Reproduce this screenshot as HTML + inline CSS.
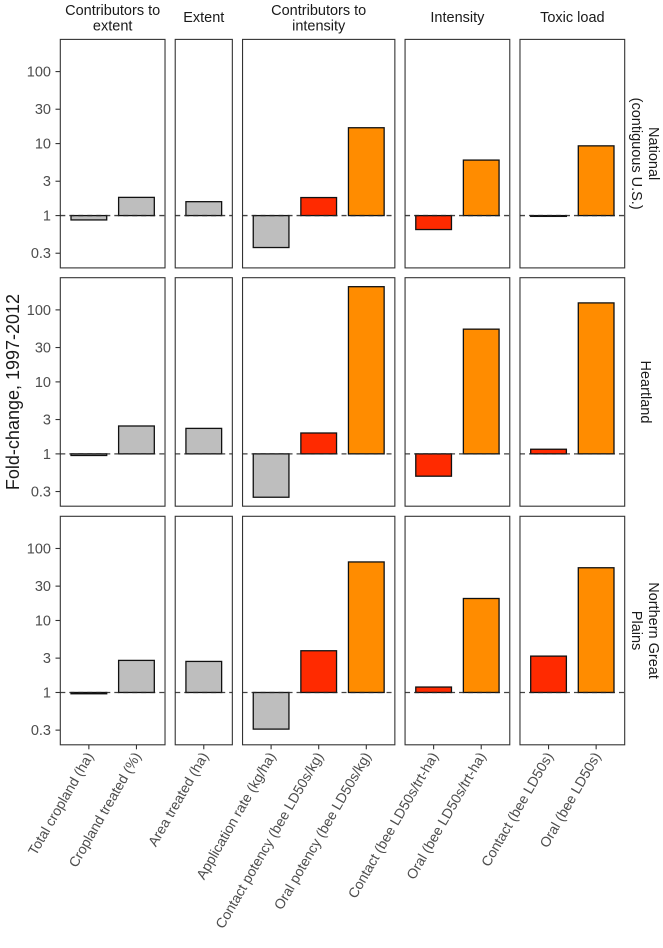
<!DOCTYPE html>
<html><head><meta charset="utf-8"><style>
html,body{margin:0;padding:0;background:#fff}
svg{display:block;font-family:"Liberation Sans",Arial,sans-serif}
</style></head><body>
<svg id="chart" width="663" height="948" viewBox="0 0 663 948" xmlns="http://www.w3.org/2000/svg"></svg>
<script>
const categories = ["Total cropland (ha)","Cropland treated (%)","Area treated (ha)","Application rate (kg/ha)","Contact potency (bee LD50s/kg)","Oral potency (bee LD50s/kg)","Contact (bee LD50s/trt-ha)","Oral (bee LD50s/trt-ha)","Contact (bee LD50s)","Oral (bee LD50s)"];
const categoryPanel = [0,0,1,2,2,2,3,3,4,4];
const categoryColor = ["#bebebe","#bebebe","#bebebe","#bebebe","#ff2a00","#ff8c00","#ff2a00","#ff8c00","#ff2a00","#ff8c00"];
const panelTitles = [["Contributors to","extent"],["Extent"],["Contributors to","intensity"],["Intensity"],["Toxic load"]];
const regions = [["National","(contiguous U.S.)"],["Heartland"],["Northern Great","Plains"]];
const valuesNational = [0.87,1.79,1.56,0.36,1.78,16.6,0.64,5.9,0.98,9.3];
const valuesHeartland = [0.95,2.44,2.26,0.25,1.95,210,0.49,54,1.16,125];
const valuesNGP = [0.96,2.79,2.7,0.31,3.8,65,1.19,20.2,3.2,54];
const seriesValues = [valuesNational,valuesHeartland,valuesNGP];
const yTicks = [0.3,1,3,10,30,100];
const yTickLabels = ["0.3","1","3","10","30","100"];

const svg = document.getElementById('chart');
const NS = 'http://www.w3.org/2000/svg';
function mk(tag, attrs, parent){const e=document.createElementNS(NS,tag);for(const k in attrs)e.setAttribute(k,attrs[k]);(parent||svg).appendChild(e);return e;}

const unit = 47.6, gap = 10.2, left0 = 60.3;
const panelCounts = [2,1,3,2,2];
function pW(p){ return (panelCounts[p]+0.2)*unit; }
const panelX = []; let px = left0;
for (let i=0;i<panelCounts.length;i++){ panelX.push(px); px += pW(i) + gap; }
const rowTop = [39.4, 277.7, 516.3], rowH = 228.5;
const logMax = 2.447, logMin = logMax - rowH/72.0;
function yScale(v, r){ return rowTop[r] + (logMax - Math.log10(v))/(logMax-logMin)*rowH; }
function xCenter(ci){ const p = categoryPanel[ci]; let idx = 0; for(let j=0;j<ci;j++) if(categoryPanel[j]===p) idx++; return panelX[p] + (0.6+idx)*unit; }

panelTitles.forEach((lines,p)=>{
  const cx = panelX[p]+pW(p)/2;
  const t = mk('text',{x:cx,'text-anchor':'middle','font-size':14.5,fill:'#1a1a1a'});
  
  
  lines.forEach((ln,i)=>{ const s=mk('tspan',{x:cx,y: lines.length===1?22:(15+i*15.5)},t); s.textContent=ln; });
});

for (let r=0;r<3;r++){
  const g = mk('g',{});
  
  
  yTicks.forEach((v,i)=>{
    const y=yScale(v,r);
    mk('line',{x1:55.5,x2:60.3,y1:y,y2:y,stroke:'#333','stroke-width':1.1},g);
    const t=mk('text',{x:51,y:y+5,'text-anchor':'end','font-size':14.5,fill:'#4d4d4d'},g);
    
    
    t.textContent=yTickLabels[i];
  });
  for (let p=0;p<5;p++){
    const pr = mk('rect',{x:panelX[p],y:rowTop[r],width:pW(p),height:rowH,fill:'#fff',stroke:'#333','stroke-width':1.1},g);
    
    
  }
  categories.forEach((c,ci)=>{
    const v = seriesValues[r][ci];
    const y1 = yScale(1,r), yv = yScale(v,r);
    const cx = xCenter(ci);
    const b = mk('rect',{x:cx-0.375*unit,y:Math.min(y1,yv),width:0.75*unit,height:Math.max(Math.abs(yv-y1),0.8),fill:categoryColor[ci],stroke:'#111','stroke-width':1.3},g);
    
    
  });
  for (let p=0;p<5;p++){
    const y1 = yScale(1,r);
    const d = mk('line',{x1:panelX[p],x2:panelX[p]+pW(p),y1:y1,y2:y1,stroke:'#222','stroke-width':1.3,'stroke-dasharray':'5,4','opacity':0.85},g);
    
    
  }
  const cy = rowTop[r]+rowH/2;
  const lines = regions[r];
  const st = mk('text',{transform:'translate(646,'+cy+') rotate(90)','text-anchor':'middle','font-size':14.5,fill:'#1a1a1a'});
  
  
  lines.forEach((ln,i)=>{ const s=mk('tspan',{x:0,y: lines.length===1?5:(-3+i*17)},st); s.textContent=ln; });
}

categories.forEach((c,ci)=>{
  const cx = xCenter(ci), yb = rowTop[2]+rowH;
  mk('line',{x1:cx,x2:cx,y1:yb,y2:yb+4.5,stroke:'#333','stroke-width':1.1});
  const t = mk('text',{transform:'translate('+(cx+5)+','+(yb+11)+') rotate(-60)','text-anchor':'end','font-size':14,fill:'#4d4d4d'});
  
  
  t.textContent=c;
});

const yt = mk('text',{transform:'translate(19,392) rotate(-90)','text-anchor':'middle','font-size':18,fill:'#1a1a1a'});


yt.textContent='Fold-change, 1997-2012';
</script>
</body></html>
